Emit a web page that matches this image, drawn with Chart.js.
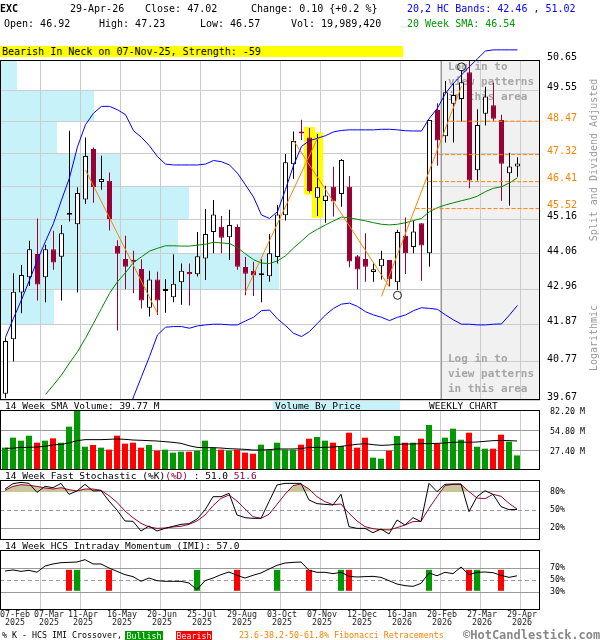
<!DOCTYPE html>
<html lang="en">
<head>
<meta charset="utf-8">
<title>EXC weekly candlestick chart</title>
<script src="https://cdn.jsdelivr.net/npm/chart.js@4.4.1/dist/chart.umd.min.js"></script>
<style>
  html, body { margin: 0; padding: 0; background: #fff; }
  #page { position: relative; width: 600px; height: 640px; overflow: hidden; background: #fff;
          font-family: 'DejaVu Sans Mono', 'Liberation Mono', monospace; color: #000; }
  #page canvas { position: absolute; left: 0; }
  .txt { position: absolute; white-space: pre; font-size: 10px; line-height: 12px; z-index: 3; }
  .vert { position: absolute; white-space: pre; font-size: 10px; line-height: 12px; color: #999; z-index: 3;
          transform: translate(-50%, -50%) rotate(-90deg); }
</style>
</head>
<body>
<div id="page">
  <canvas id="priceChart" width="600" height="402" style="top:0"></canvas>
  <canvas id="volumeChart" width="600" height="72" style="top:400px"></canvas>
  <canvas id="stochChart" width="600" height="72" style="top:470px"></canvas>
  <canvas id="imiChart" width="600" height="100" style="top:540px"></canvas>
</div>
<script>
// ---------- weekly data, week 0 = 07-Feb-2025, last week = 29-Apr-2026 ----------
const symbol = 'EXC';
const asOfDate = '29-Apr-26';
const patternText = 'Bearish In Neck on 07-Nov-25, Strength: -59';

const opens  = [39.85, 41.44, 42.86, 43.33, 44.06, 43.33, 44.21, 43.97, 45.32, 45.01,
                45.82, 47.51, 46.40, 46.44, 44.32, 43.90, 43.85, 43.59, 42.39, 43.26,
                42.90, 42.71, 43.17, 43.49, 43.42, 43.92, 44.76, 44.93, 44.59, 44.92,
                43.65, 43.53, 43.39, 43.36, 43.96, 45.30, 46.99, 48.08, 47.91, 45.88,
                45.77, 46.24, 46.00, 46.24, 43.99, 43.90, 43.49, 43.67, 43.87, 43.17,
                44.64, 44.28, 45.04, 44.08, 48.86, 47.95, 49.08, 49.25, 50.21, 46.79,
                48.73, 49.03, 48.51, 46.69, 46.92];
const highs  = [41.49, 43.45, 43.71, 44.48, 45.20, 44.35, 44.80, 44.99, 48.14, 46.22,
                47.91, 47.56, 47.28, 46.72, 44.50, 44.64, 44.16, 43.89, 43.53, 43.50,
                43.27, 44.05, 43.76, 43.76, 44.76, 45.51, 45.80, 45.28, 45.48, 45.01,
                43.96, 43.81, 43.89, 44.70, 45.64, 47.34, 48.11, 48.52, 48.23, 48.03,
                46.27, 46.91, 47.17, 46.60, 44.03, 44.72, 43.76, 44.16, 43.87, 44.83,
                45.23, 45.12, 45.04, 48.51, 49.10, 49.89, 49.81, 50.29, 50.62, 48.89,
                49.69, 49.83, 48.70, 47.38, 47.23];
const lows   = [39.72, 40.78, 42.22, 43.06, 42.61, 42.56, 43.56, 42.61, 45.10, 42.86,
                45.67, 45.71, 46.14, 44.81, 41.70, 42.96, 42.83, 42.37, 42.12, 42.17,
                42.24, 42.56, 42.48, 42.46, 43.35, 43.24, 44.08, 44.08, 43.87, 43.56,
                42.77, 42.75, 42.56, 43.19, 43.76, 45.13, 46.51, 47.82, 46.05, 45.28,
                45.06, 45.26, 45.58, 43.64, 42.96, 43.19, 43.19, 43.26, 43.05, 42.93,
                43.43, 44.08, 43.22, 43.66, 46.94, 47.73, 47.73, 48.46, 46.19, 46.45,
                48.32, 48.49, 45.78, 45.61, 46.57];
const closes = [41.39, 42.88, 43.40, 44.21, 43.10, 44.21, 43.79, 44.72, 45.36, 46.03,
                47.27, 46.22, 46.50, 45.18, 44.07, 43.66, 43.81, 42.61, 43.26, 42.61,
                42.93, 43.13, 43.53, 43.42, 43.99, 44.70, 45.33, 44.58, 44.99, 43.66,
                43.44, 43.38, 43.42, 44.08, 45.33, 47.06, 47.79, 48.04, 46.10, 46.22,
                45.95, 45.75, 47.14, 43.82, 43.57, 43.66, 43.58, 43.91, 43.27, 44.76,
                44.08, 44.78, 44.33, 48.51, 47.80, 49.49, 49.39, 49.85, 46.45, 48.34,
                49.34, 48.56, 47.01, 46.92, 47.02];

// weekly volume, millions of shares
const volumeM = [30.6, 44.3, 40.2, 47.0, 37.4, 40.2, 43.4, 37.4, 59.4, 81.3,
                 31.9, 34.3, 30.6, 27.9, 47.0, 36.1, 37.4, 30.6, 34.3, 26.5,
                 27.9, 23.8, 25.1, 25.1, 26.5, 40.2, 30.6, 27.9, 26.5, 27.9,
                 23.8, 22.4, 34.7, 27.3, 37.4, 27.9, 27.9, 34.7, 42.9, 45.2,
                 40.2, 37.4, 32.9, 51.1, 30.6, 44.3, 16.9, 15.5, 26.5, 46.6,
                 37.4, 37.4, 42.9, 61.7, 36.1, 44.3, 56.6, 41.5, 51.1, 31.9,
                 29.2, 29.2, 48.4, 38.8, 19.98942];
const volumeSmaM = [29.7, 29.9, 31.0, 31.0, 31.5, 32.4, 34.3, 35.1, 37.0, 40.2,
                    41.6, 41.6, 41.6, 42.0, 42.5, 42.0, 41.1, 40.7, 40.2, 39.7,
                    38.8, 37.9, 36.5, 33.3, 31.0, 30.6, 30.6, 30.1, 29.2, 28.8,
                    28.3, 27.4, 27.4, 27.9, 28.8, 28.8, 28.8, 29.2, 31.0, 31.0,
                    31.0, 31.5, 32.4, 33.8, 35.2, 36.1, 34.7, 33.8, 34.2, 35.2,
                    35.6, 35.6, 36.1, 36.1, 36.5, 37.0, 37.9, 38.4, 37.9, 38.4,
                    39.3, 40.2, 40.5, 40.2, 39.77];

// 20,2 HC bands and 20 week SMA
const bandUpper = [41.50, 42.07, 42.63, 43.24, 43.87, 44.46, 45.04, 45.80, 46.54, 47.59,
                   48.35, 48.75, 48.99, 48.99, 48.87, 48.70, 48.14, 47.91, 47.62, 47.25,
                   47.00, 46.97, 46.97, 46.97, 46.97, 47.00, 47.12, 47.08, 46.97, 46.69,
                   46.30, 45.90, 45.31, 45.20, 45.42, 46.15, 46.95, 47.60, 47.80, 47.88,
                   47.97, 48.10, 48.15, 48.17, 48.17, 48.17, 48.17, 48.19, 48.19, 48.17,
                   48.14, 48.13, 48.13, 48.58, 48.93, 49.45, 49.81, 50.11, 50.41, 50.70,
                   50.98, 51.02, 51.02, 51.02, 51.02];
const bandLower = [null, null, null, null, null, null, null, null, null, null,
                   null, null, null, null, null, 39.00, 39.76, 40.34, 40.93, 41.57,
                   41.80, 41.82, 41.82, 41.77, 41.84, 41.87, 41.89, 41.89, 41.87, 41.87,
                   41.99, 42.10, 42.30, 42.32, 42.05, 41.85, 41.62, 41.52, 41.67, 41.92,
                   42.17, 42.37, 42.50, 42.53, 42.43, 42.27, 42.17, 42.10, 42.00, 42.10,
                   42.17, 42.30, 42.39, 42.37, 42.34, 42.17, 42.02, 41.89, 41.89, 41.87,
                   41.87, 41.89, 41.90, 42.17, 42.46];
const sma20 = [null, null, null, null, null, 39.83, 40.10, 40.39, 40.74, 41.07,
               41.47, 41.92, 42.37, 42.83, 43.19, 43.47, 43.79, 43.97, 44.15, 44.24,
               44.32, 44.32, 44.31, 44.31, 44.34, 44.37, 44.43, 44.41, 44.39, 44.26,
               44.06, 43.88, 43.77, 43.76, 43.84, 44.00, 44.25, 44.47, 44.70, 44.85,
               44.99, 45.12, 45.24, 45.22, 45.17, 45.12, 45.06, 45.01, 44.99, 45.01,
               45.06, 45.13, 45.20, 45.42, 45.55, 45.64, 45.71, 45.78, 45.84, 45.93,
               46.08, 46.19, 46.24, 46.37, 46.54];

// 14 week fast stochastic and HCS intraday momentum, percent
const stochK = [85.0, 93.9, 96.0, 94.4, 79.4, 89.4, 87.2, 94.4, 76.1, 81.7,
                92.8, 81.7, 82.2, 65.0, 50.0, 31.7, 31.1, 15.0, 23.3, 15.0,
                19.4, 22.8, 26.1, 27.2, 35.0, 50.0, 72.2, 72.2, 77.8, 41.7,
                37.2, 36.1, 36.1, 63.9, 91.7, 94.4, 94.4, 94.4, 66.7, 60.6,
                59.4, 58.3, 76.1, 22.2, 19.4, 19.4, 12.2, 18.3, 10.0, 33.3,
                25.0, 37.2, 30.6, 94.4, 80.6, 92.8, 93.3, 93.3, 47.2, 72.2,
                82.2, 76.1, 55.6, 50.6, 51.0];
const stochD = [82.8, 89.4, 92.2, 91.1, 89.4, 86.7, 85.0, 87.2, 83.9, 81.7,
                85.0, 85.0, 82.8, 73.9, 62.8, 48.3, 37.2, 27.8, 21.7, 19.4,
                20.0, 21.7, 22.8, 26.1, 31.7, 41.7, 57.2, 69.4, 75.0, 65.0,
                51.7, 38.9, 36.1, 42.8, 59.4, 76.1, 90.6, 93.3, 85.0, 72.2,
                63.9, 58.9, 60.0, 44.4, 31.7, 22.2, 18.9, 17.2, 16.7, 20.6,
                25.0, 30.6, 31.1, 52.8, 72.2, 90.6, 92.8, 92.8, 80.6, 70.0,
                68.9, 76.1, 72.8, 61.1, 51.6];
const imi = [65.0, 66.7, 64.4, 66.1, 63.0, 73.3, 76.7, 78.9, 79.4, 80.0,
             83.9, 76.7, 76.7, 70.0, 64.4, 58.9, 55.6, 47.8, 53.3, 48.9,
             47.8, 47.8, 47.8, 45.0, 33.9, 48.9, 53.3, 58.9, 63.3, 57.8,
             53.3, 57.8, 61.7, 68.3, 74.4, 78.3, 79.4, 80.0, 66.1, 62.8,
             62.8, 60.6, 62.8, 56.1, 55.0, 55.6, 56.1, 54.4, 48.9, 43.3,
             40.6, 39.4, 44.4, 61.7, 57.2, 62.8, 60.6, 71.7, 58.9, 62.8,
             63.3, 62.2, 57.8, 54.4, 57.0];
// %K - IMI crossover weeks
const imiBullWeeks = [9, 24, 34, 42, 53, 59];
const imiBearWeeks = [8, 13, 29, 38, 43, 58, 62];
const crossSpan = [32, 67];

// axis ticks
const priceTicks = [39.67, 40.77, 41.87, 42.96, 44.06, 45.16, 46.26, 47.36, 48.45, 49.55, 50.65];
const volumeTicks = [27.4, 54.8, 82.2];
const stochTicks = [20, 50, 80];
const imiTicks = [30, 50, 70];
const labelWeeks = [0, 4, 9, 14, 19, 24, 29, 34, 39, 44, 49, 54, 59, 64];
const labelDates = ['07-Feb', '07-Mar', '11-Apr', '16-May', '20-Jun', '25-Jul', '29-Aug',
                    '03-Oct', '07-Nov', '12-Dec', '16-Jan', '20-Feb', '27-Mar', '29-Apr'];
const labelYears = ['2025', '2025', '2025', '2025', '2025', '2025', '2025',
                    '2025', '2025', '2025', '2026', '2026', '2026', '2026'];

// Fibonacci retracement levels and the week each dashed level starts
const fibLevels = [48.47, 47.32, 46.41, 45.52];
const fibStartWeeks = [55.6, 54.2, 52.7, 51.25];

// trend lines (start week/price -> end week/price)
const trendFromWeek  = [10, 30, 36, 47];
const trendFromPrice = [46.80, 42.88, 47.80, 42.74];
const trendToWeek    = [19, 39, 48, 57];
const trendToPrice   = [42.22, 47.88, 43.02, 49.70];

// highlighted pattern candles and pivot circles
const patternWeeks = [38, 39];
const patternLo = [45.98, 45.22];
const patternHi = [48.27, 48.08];
const pivotWeeks = [49, 57];
const pivotPrices = [42.77, 50.40];

// volume by price, one band between each pair of price ticks (bottom to top), millions of shares
const vbpVolume = [0, 0, 132, 684, 436, 463, 296, 140, 230, 42];
const VBP_AXIS_MAX = 1324;

// weeks from which the pattern area is locked
const lockedFromWeek = 54;

// ---------- styling ----------
const MONO = "'DejaVu Sans Mono', 'Liberation Mono', monospace";
const CRIMSON = '#990033', UP_VOL = '#009900', DOWN_VOL = '#ff0000', ORANGE = '#ff8000';
const GRID = '#cccccc', LEVEL_GRID = '#9a9a9a', KHAKI = '#c9c59b', VBP_FILL = '#c8f2fa';
const WEEK_SPAN = 67.5;        // 540 px plot width at 8 px per week
const GRID_SHIFT = 0.375;      // grid lines sit 3 px right of the labelled week
const MAIN_MIN = -0.6875, PANEL_MIN = -0.625;

const N = closes.length;
const weeks = Array.from({ length: N }, (_, i) => i);
const isUp = weeks.map(i => closes[i] >= opens[i]);
const gridWeeks = labelWeeks.slice(1).map(w => w + GRID_SHIFT);
const isFib = v => fibLevels.some(f => Math.abs(f - v) < 1e-9);
const hidePriceLabel = v => !isFib(v) && fibLevels.some(f => Math.abs(f - v) < 0.2);
const last = arr => arr[arr.length - 1];

Chart.defaults.font.family = MONO;
Chart.defaults.color = '#000';
Chart.defaults.animation = false;
Chart.defaults.events = [];
Chart.defaults.plugins.legend.display = false;
Chart.defaults.plugins.tooltip.enabled = false;

// ---------- page text ----------
const page = document.getElementById('page');
function addText(str, left, top, style) {
  const d = document.createElement('div');
  d.className = 'txt';
  d.textContent = str;
  d.style.left = left + 'px';
  d.style.top = top + 'px';
  Object.assign(d.style, style || {});
  page.appendChild(d);
  return d;
}
const lastClose = last(closes), prevClose = closes[N - 2];
const change = lastClose - prevClose;
const changePct = change / prevClose * 100;
const sign = v => (v >= 0 ? '+' : '');
addText(symbol, 0, 3, { fontWeight: 'bold' });
addText(asOfDate, 70, 3);
addText('Close: ' + lastClose.toFixed(2), 145, 3);
addText('Change: ' + change.toFixed(2) + ' {' + sign(changePct) + changePct.toFixed(1) + ' %}', 251, 3);
addText('20,2 HC Bands: ' + last(bandLower).toFixed(2) + ' , ' + last(bandUpper).toFixed(2), 407, 3, { color: '#0000ff' });
addText('Open: ' + last(opens).toFixed(2), 4, 18);
addText('High: ' + last(highs).toFixed(2), 99, 18);
addText('Low: ' + last(lows).toFixed(2), 200, 18);
addText('Vol: ' + Math.round(last(volumeM) * 1e6).toLocaleString('en-US'), 291, 18);
addText('20 Week SMA: ' + last(sma20).toFixed(2), 407, 18, { color: '#009900' });
addText(patternText, 0, 46, { width: '401px', height: '11px', lineHeight: '11px', paddingLeft: '2px', background: '#ffff00' });

addText('14 Week SMA Volume: ' + last(volumeSmaM).toFixed(2) + ' M', 5, 400, { fontSize: '9.5px' });
addText('Volume By Price', 273, 401, { width: '125px', height: '9px', lineHeight: '9px', paddingLeft: '2px', fontSize: '9.5px', background: VBP_FILL });
addText('WEEKLY CHART', 429, 400, { fontSize: '9.5px' });

const stTitle = addText('14 Week Fast Stochastic (%K)', 5, 470, { fontSize: '9.5px' });
const stD = document.createElement('span'); stD.textContent = '(%D)'; stD.style.color = CRIMSON; stTitle.appendChild(stD);
stTitle.appendChild(document.createTextNode(' : ' + last(stochK).toFixed(1) + ' '));
const stDv = document.createElement('span'); stDv.textContent = last(stochD).toFixed(1); stDv.style.color = CRIMSON; stTitle.appendChild(stDv);

addText('14 Week HCS Intraday Momentum (IMI): ' + last(imi).toFixed(1), 5, 539.5, { fontSize: '9.5px' });

addText('% K - HCS IMI Crossover,', 2, 629, { fontSize: '8.3px' });
addText('Bullish', 125, 630.5, { width: '38px', height: '9.5px', lineHeight: '10px', fontSize: '8.3px', color: '#fff', background: UP_VOL, textAlign: 'center' });
addText('Bearish', 176, 630.5, { width: '36px', height: '9.5px', lineHeight: '10px', fontSize: '8.3px', color: '#fff', background: DOWN_VOL, textAlign: 'center' });
addText('23.6-38.2-50-61.8% Fibonacci Retracements', 239, 629, { fontSize: '8.3px', color: ORANGE });
addText('\u00A9HotCandlestick.com', 463, 628, { fontSize: '12px', lineHeight: '14px', fontWeight: 'bold', color: '#888' });

function addVertical(str, cx, cy) {
  const d = document.createElement('div');
  d.className = 'vert';
  d.textContent = str;
  d.style.left = cx + 'px';
  d.style.top = cy + 'px';
  page.appendChild(d);
}
addVertical('Split and Dividend Adjusted', 594, 160);
addVertical('Logarithmic', 594, 338);

// ---------- shared pieces ----------
function weekAxis(min) {
  return {
    type: 'linear', min: min, max: min + WEEK_SPAN, offset: false, bounds: 'data',
    grid: { color: GRID, lineWidth: 1, drawTicks: false, offset: false },
    border: { display: false },
    ticks: { display: false },
    afterBuildTicks: s => { s.ticks = gridWeeks.map(v => ({ value: v })); },
    afterFit: s => { s.height = 0; s.paddingLeft = 0; s.paddingRight = 0; s.paddingTop = 0; s.paddingBottom = 0; }
  };
}
const sideAxisFit = s => { s.width = 60; s.paddingTop = 0; s.paddingBottom = 0; s.paddingLeft = 0; s.paddingRight = 0; };
function levelAxis(min, max, tickValues, fmt, opts) {
  return Object.assign({
    type: 'linear', position: 'right', min: min, max: max, bounds: 'data',
    afterBuildTicks: s => { s.ticks = tickValues.map(v => ({ value: v })); },
    afterFit: sideAxisFit,
    border: { display: false },
    grid: { drawTicks: false, color: LEVEL_GRID },
    ticks: { autoSkip: false, padding: 10, font: { size: 8.3 }, callback: fmt }
  }, opts || {});
}
const framePlugin = {
  id: 'panelFrame',
  afterDraw(chart) {
    const { ctx, chartArea: a } = chart;
    ctx.save();
    ctx.strokeStyle = '#000';
    ctx.lineWidth = 1;
    ctx.strokeRect(Math.round(a.left) + 0.5, Math.round(a.top) + 0.5,
                   Math.round(a.right - a.left) - 1, Math.round(a.bottom - a.top) - 1);
    ctx.restore();
  }
};
const lineDs = (data, color, extra) => Object.assign({
  type: 'line', data: data, borderColor: color, borderWidth: 1, pointRadius: 0, pointHoverRadius: 0,
  tension: 0, fill: false, spanGaps: false
}, extra || {});
const series = arr => weeks.map(i => ({ x: i, y: arr[i] }));
const panelLayout = (top, bottom) => ({ autoPadding: false, padding: { left: 0, right: 0, top: top, bottom: bottom } });

// ---------- price panel ----------
const priceDecor = {
  id: 'priceDecor',
  beforeDraw(chart) {
    const { ctx, chartArea: a, scales } = chart;
    const x = scales.x, y = scales.y, v = scales.vbp;
    ctx.save();
    const lx = Math.round(x.getPixelForValue(lockedFromWeek + GRID_SHIFT));
    ctx.fillStyle = '#f1f1f1';
    ctx.fillRect(lx, a.top, a.right - lx, a.bottom - a.top);
    // volume-by-price bands, measured along the hidden volume axis across the plot width
    ctx.fillStyle = VBP_FILL;
    const span = a.right - a.left;
    vbpVolume.forEach((vol, i) => {
      if (!vol) return;
      const yTop = Math.round(y.getPixelForValue(priceTicks[i + 1]));
      const yBot = Math.round(y.getPixelForValue(priceTicks[i]));
      const w = Math.round((vol - v.min) / (v.max - v.min) * span);
      ctx.fillRect(a.left, yTop, w, yBot - yTop);
    });
    ctx.restore();
  },
  beforeDatasetsDraw(chart) {
    const { ctx, chartArea: a, scales } = chart;
    const lx = Math.round(scales.x.getPixelForValue(lockedFromWeek + GRID_SHIFT));
    ctx.save();
    ctx.strokeStyle = '#999';
    ctx.lineWidth = 1;
    ctx.beginPath();
    ctx.moveTo(lx + 0.5, a.top);
    ctx.lineTo(lx + 0.5, a.bottom);
    ctx.stroke();
    ctx.font = 'bold 11px ' + MONO;
    ctx.fillStyle = '#a6a6a6';
    ctx.textBaseline = 'middle';
    const lines = ['Log in to', 'view patterns', 'in this area'];
    lines.forEach((t, k) => {
      ctx.fillText(t, lx + 7, a.top + 7 + 15 * k);
      ctx.fillText(t, lx + 7, a.bottom - 41 + 15 * k);
    });
    ctx.restore();
  }
};

const priceDatasets = [
  lineDs(pivotWeeks.map((w, k) => ({ x: w, y: pivotPrices[k] })), '#222',
         { showLine: false, pointRadius: 4, pointBorderColor: '#222', pointBackgroundColor: 'rgba(0,0,0,0)',
           pointBorderWidth: 1, order: 0 })
];
fibLevels.forEach((lv, k) => {
  priceDatasets.push(lineDs([{ x: fibStartWeeks[k], y: lv }, { x: MAIN_MIN + WEEK_SPAN, y: lv }], ORANGE,
                            { borderDash: [4, 2], order: 1 }));
});
trendFromWeek.forEach((w, k) => {
  priceDatasets.push(lineDs([{ x: w, y: trendFromPrice[k] }, { x: trendToWeek[k], y: trendToPrice[k] }], ORANGE, { order: 1 }));
});
priceDatasets.push(
  lineDs(series(bandUpper), '#0000ff', { order: 2, clip: { left: 0, right: 0, top: false, bottom: 0 } }),
  lineDs(series(bandLower), '#0000ff', { order: 2 }),
  lineDs(series(sma20), '#008800', { order: 2 }),
  {
    type: 'bar', order: 3, grouped: false, barThickness: 5, minBarLength: 2,
    data: weeks.map(i => ({ x: i, y: [opens[i], closes[i]] })),
    backgroundColor: weeks.map(i => isUp[i] ? '#ffffff' : CRIMSON),
    borderColor: weeks.map(i => isUp[i] ? '#000000' : CRIMSON),
    borderWidth: 1, borderSkipped: false, inflateAmount: 0
  },
  {
    type: 'bar', order: 4, grouped: false, barThickness: 1,
    data: weeks.map(i => ({ x: i, y: [lows[i], highs[i]] })),
    backgroundColor: weeks.map(i => isUp[i] ? '#000000' : CRIMSON),
    borderWidth: 0, inflateAmount: 0
  },
  {
    type: 'bar', order: 5, grouped: false, barThickness: 11,
    data: patternWeeks.map((w, k) => ({ x: w, y: [patternLo[k], patternHi[k]] })),
    backgroundColor: '#ffff00', borderWidth: 0, inflateAmount: 0
  }
);

new Chart(document.getElementById('priceChart'), {
  type: 'bar',
  data: { datasets: priceDatasets },
  options: {
    responsive: false, devicePixelRatio: 1,
    layout: panelLayout(60, 2),
    scales: {
      x: weekAxis(MAIN_MIN),
      y: {
        type: 'logarithmic', position: 'right', bounds: 'data',
        min: priceTicks[0], max: last(priceTicks),
        afterBuildTicks: s => { s.ticks = priceTicks.concat(fibLevels).sort((a, b) => a - b).map(v => ({ value: v })); },
        afterFit: sideAxisFit,
        border: { display: false },
        grid: { drawTicks: false, color: c => (c.tick && isFib(c.tick.value)) ? 'rgba(0,0,0,0)' : GRID },
        ticks: {
          autoSkip: false, padding: 7, labelOffset: -3, font: { size: 10 },
          color: c => (c.tick && isFib(c.tick.value)) ? ORANGE : '#000',
          callback: v => hidePriceLabel(v) ? '' : Number(v).toFixed(2)
        }
      },
      vbp: { type: 'linear', axis: 'x', display: false, min: 0, max: VBP_AXIS_MAX }
    }
  },
  plugins: [priceDecor, framePlugin]
});

// ---------- volume panel ----------
new Chart(document.getElementById('volumeChart'), {
  type: 'bar',
  data: {
    datasets: [
      lineDs(series(volumeSmaM), '#000', { order: 0 }),
      {
        type: 'bar', order: 1, grouped: false, barThickness: 6, inflateAmount: 0,
        data: series(volumeM),
        backgroundColor: weeks.map(i => isUp[i] ? UP_VOL : DOWN_VOL), borderWidth: 0
      }
    ]
  },
  options: {
    responsive: false, devicePixelRatio: 1,
    layout: panelLayout(10, 2),
    scales: {
      x: weekAxis(PANEL_MIN),
      y: levelAxis(0, last(volumeTicks), volumeTicks, v => Number(v).toFixed(2) + ' M', {
        grid: { drawTicks: false, color: c => (c.tick && c.tick.value === last(volumeTicks)) ? 'rgba(0,0,0,0)' : LEVEL_GRID },
        ticks: { autoSkip: false, padding: 10, labelOffset: 1.5, font: { size: 8.3 }, callback: v => Number(v).toFixed(2) + ' M' }
      })
    }
  },
  plugins: [framePlugin]
});

// ---------- stochastic panel ----------
const dashedMid = c => (c.tick && c.tick.value === 50) ? [4, 3] : [];
new Chart(document.getElementById('stochChart'), {
  type: 'line',
  data: {
    datasets: [
      lineDs(series(stochK), '#000', { order: 0 }),
      lineDs(series(stochD), CRIMSON, { order: 1, fill: { target: { value: 80 }, above: KHAKI, below: 'rgba(0,0,0,0)' } }),
      lineDs(series(stochD), 'rgba(0,0,0,0)', { order: 2, borderWidth: 0, fill: { target: { value: 20 }, above: 'rgba(0,0,0,0)', below: KHAKI } })
    ]
  },
  options: {
    responsive: false, devicePixelRatio: 1,
    layout: panelLayout(10, 2),
    scales: {
      x: weekAxis(PANEL_MIN),
      y: levelAxis(0, 100, stochTicks, v => v + '%', { border: { display: false, dash: dashedMid } })
    }
  },
  plugins: [framePlugin]
});

// ---------- IMI panel ----------
const weekLabelPlugin = {
  id: 'weekLabels',
  afterDraw(chart) {
    const { ctx, chartArea: a, scales: { x } } = chart;
    ctx.save();
    ctx.font = '8.3px ' + MONO;
    ctx.fillStyle = '#222';
    ctx.textAlign = 'center';
    ctx.textBaseline = 'middle';
    let prevRight = -Infinity;
    labelWeeks.forEach((w, i) => {
      const wd = Math.max(ctx.measureText(labelDates[i]).width, ctx.measureText(labelYears[i]).width);
      let left = x.getPixelForValue(w + GRID_SHIFT) + 2 - wd / 2;
      left = Math.max(left, a.left, prevRight + 4);
      left = Math.min(left, chart.width - wd);
      const cx = left + wd / 2;
      ctx.fillText(labelDates[i], cx, a.bottom + 4.5);
      ctx.fillText(labelYears[i], cx, a.bottom + 13);
      prevRight = left + wd;
    });
    ctx.restore();
  }
};
new Chart(document.getElementById('imiChart'), {
  type: 'bar',
  data: {
    datasets: [
      lineDs(series(imi), '#000', { order: 0 }),
      {
        type: 'bar', order: 1, grouped: false, barThickness: 6, inflateAmount: 0, borderWidth: 0,
        data: imiBullWeeks.map(w => ({ x: w, y: crossSpan })), backgroundColor: UP_VOL
      },
      {
        type: 'bar', order: 1, grouped: false, barThickness: 6, inflateAmount: 0, borderWidth: 0,
        data: imiBearWeeks.map(w => ({ x: w, y: crossSpan })), backgroundColor: DOWN_VOL
      }
    ]
  },
  options: {
    responsive: false, devicePixelRatio: 1,
    layout: panelLayout(10, 30),
    scales: {
      x: weekAxis(PANEL_MIN),
      y: levelAxis(0, 100, imiTicks, v => v + '%', { border: { display: false, dash: dashedMid } })
    }
  },
  plugins: [framePlugin, weekLabelPlugin]
});
</script>
</body>
</html>
